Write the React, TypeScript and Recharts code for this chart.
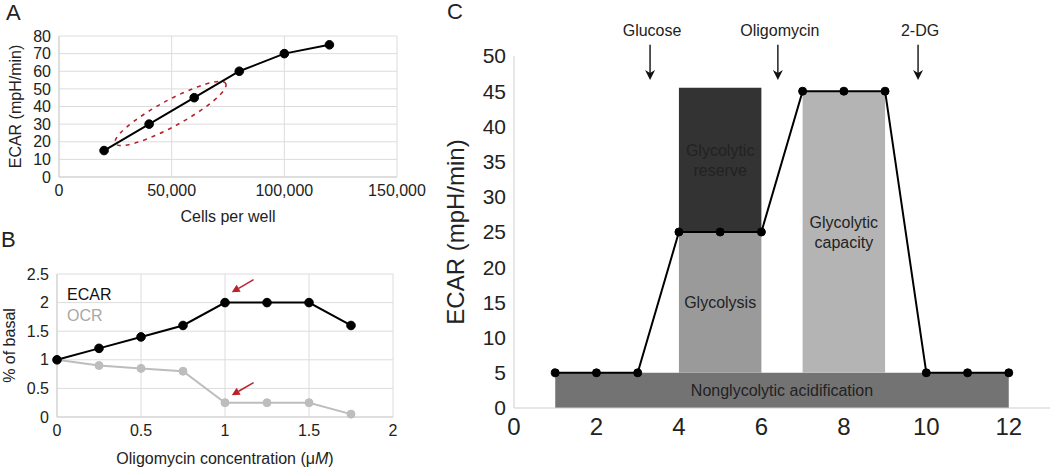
import React from 'react';
import { LineChart, Line, XAxis, YAxis, CartesianGrid, ReferenceArea, ReferenceLine, Label } from 'recharts';

// ---------- Data ----------
// Panel A
const cellsPerWell = [20000, 40000, 60000, 80000, 100000, 120000];
const ecarByCells = [15, 30, 45, 60, 70, 75];
const aXTicks = [0, 50000, 100000, 150000];
const aYTicks = [0, 10, 20, 30, 40, 50, 60, 70, 80];
// linear-range highlight (ellipse ends, data coords)
const linearRangeStart = { x: 25000, y: 19 };
const linearRangeEnd = { x: 74000, y: 53 };

// Panel B
const oligoConc = [0, 0.25, 0.5, 0.75, 1, 1.25, 1.5, 1.75];
const ecarPct = [1, 1.2, 1.4, 1.6, 2, 2, 2, 1.6];
const ocrPct = [1, 0.9, 0.85, 0.8, 0.25, 0.25, 0.25, 0.05];
const bXTicks = [0, 0.5, 1, 1.5, 2];
const bYTicks = [0, 0.5, 1, 1.5, 2, 2.5];
const bSeriesNames = ['ECAR', 'OCR'];
// optimal-dose arrows (tail -> head, data coords)
const bArrowTails = [{ x: 1.17, y: 2.4 }, { x: 1.17, y: 0.6 }];
const bArrowHeads = [{ x: 1.04, y: 2.18 }, { x: 1.04, y: 0.38 }];

// Panel C
const timePoints = [1, 2, 3, 4, 5, 6, 7, 8, 9, 10, 11, 12];
const ecarTime = [5, 5, 5, 25, 25, 25, 45, 45, 45, 5, 5, 5];
const cXTicks = [0, 2, 4, 6, 8, 10, 12];
const cYTicks = [0, 5, 10, 15, 20, 25, 30, 35, 40, 45, 50];
const injections = ['Glucose', 'Oligomycin', '2-DG'];
const injectionTimes = [3.3, 6.4, 9.8];
const injectionArrowTop = 51.6;
const injectionArrowBottom = 46.6;
const phaseNames = ['Nonglycolytic acidification', 'Glycolysis', 'Glycolytic\nreserve', 'Glycolytic\ncapacity'];
const phaseStart = [1, 4, 4, 7];
const phaseEnd = [12, 6, 6, 9];
const phaseLow = [0, 5, 25, 5];
const phaseHigh = [5, 25, 45.5, 45];

// ---------- Styles ----------
const FONT = '"Liberation Sans", Arial, Helvetica, sans-serif';
const TEXT = '#222';
const GRID = '#dcdcdc';
const AXIS = '#cfcfcf';
const RED = '#b8232b';
const PHASE_FILL = ['#737373', '#9a9a9a', '#333333', '#b4b4b4'];

const dataA = cellsPerWell.map((c, i) => ({ cells: c, ecar: ecarByCells[i] }));
const dataB = oligoConc.map((c, i) => ({ conc: c, ecar: ecarPct[i], ocr: ocrPct[i] }));
const dataC = timePoints.map((t, i) => ({ t, ecar: ecarTime[i] }));

const EllipseShape = (p: any) => {
  const { x1, y1, x2, y2 } = p;
  const cx = (x1 + x2) / 2;
  const cy = (y1 + y2) / 2;
  const rx = Math.hypot(x2 - x1, y2 - y1) / 2;
  const ang = (Math.atan2(y2 - y1, x2 - x1) * 180) / Math.PI;
  return (
    <ellipse cx={cx} cy={cy} rx={rx} ry={13} transform={`rotate(${ang} ${cx} ${cy})`}
      fill="none" stroke={RED} strokeWidth={1.6} strokeDasharray="4 5" />
  );
};

const RedArrowShape = (p: any) => {
  const { x1, y1, x2, y2 } = p;
  const dx = x2 - x1, dy = y2 - y1;
  const len = Math.hypot(dx, dy);
  const ux = dx / len, uy = dy / len;
  const hl = 8, hw = 4;
  const bx = x2 - ux * hl, by = y2 - uy * hl;
  const px = -uy, py = ux;
  return (
    <g>
      <line x1={x1} y1={y1} x2={bx} y2={by} stroke={RED} strokeWidth={1.5} />
      <polygon points={`${x2},${y2} ${bx + px * hw},${by + py * hw} ${bx - px * hw},${by - py * hw}`} fill={RED} />
    </g>
  );
};

const makeInjectionShape = (name: string) => (p: any) => {
  const { x1, y1, x2, y2 } = p;
  return (
    <g>
      <line x1={x1} y1={y1} x2={x2} y2={y2 - 3} stroke="#111" strokeWidth={1.4} />
      <polygon points={`${x2 - 5},${y2 - 10} ${x2},${y2} ${x2 + 5},${y2 - 10} ${x2},${y2 - 7}`} fill="#111" />
      <text x={x1 + 2} y={y1 - 9} textAnchor="middle" fontSize={16} fill={TEXT} fontFamily={FONT}>{name}</text>
    </g>
  );
};

const makePhaseLabel = (name: string) => (props: any) => {
  const vb = props.viewBox || {};
  const lines = name.split('\n');
  const fs = 16;
  const lh = 20;
  const cx = vb.x + vb.width / 2;
  const cy = vb.y + vb.height / 2;
  const firstCenter = cy - ((lines.length - 1) * lh) / 2;
  return (
    <text textAnchor="middle" fontSize={fs} fill={TEXT} fontFamily={FONT}>
      {lines.map((l, i) => (
        <tspan key={i} x={cx} y={firstCenter + i * lh + fs * 0.36}>{l}</tspan>
      ))}
    </text>
  );
};

const OligoLabel = (props: any) => {
  const vb = props.viewBox || { x: 57, y: 197, width: 336, height: 50 };
  const cx = vb.x + vb.width / 2;
  const y = vb.y + vb.height - 3;
  return (
    <text x={cx} y={y} textAnchor="middle" fontSize={16} fill={TEXT} fontFamily={FONT}>
      Oligomycin concentration (μ<tspan fontStyle="italic">M</tspan>)
    </text>
  );
};

const tickStyle = (fs: number) => ({ fontSize: fs, fill: TEXT, fontFamily: FONT });

export default function App() {
  return (
    <div style={{ position: 'absolute', left: 0, top: 0, width: 1050, height: 467, background: '#fff', fontFamily: FONT, overflow: 'hidden' }}>
      {/* Panel letters */}
      <div style={{ position: 'absolute', left: 6, top: 0, fontSize: 22, lineHeight: '26px', color: TEXT }}>A</div>
      <div style={{ position: 'absolute', left: 1, top: 227, fontSize: 22, lineHeight: '26px', color: TEXT }}>B</div>
      <div style={{ position: 'absolute', left: 447, top: -1, fontSize: 22, lineHeight: '26px', color: TEXT }}>C</div>

      {/* Panel A */}
      <div style={{ position: 'absolute', left: 0, top: 0 }}>
        <LineChart width={440} height={225} data={dataA} margin={{ top: 36, right: 43, left: 0, bottom: 0 }}>
          <CartesianGrid stroke={GRID} />
          <XAxis dataKey="cells" type="number" domain={[0, 150000]} ticks={aXTicks} interval={0}
            tickFormatter={(v: number) => v.toLocaleString('en-US')} tickLine={false}
            axisLine={{ stroke: AXIS }} height={48} tick={tickStyle(16)}>
            <Label value="Cells per well" position="insideBottom" offset={3} style={{ fontSize: 16, fill: TEXT, fontFamily: FONT }} />
          </XAxis>
          <YAxis type="number" domain={[0, 80]} ticks={aYTicks} interval={0} width={59} tickLine={false}
            axisLine={{ stroke: AXIS }} tick={tickStyle(16)}>
            <Label value="ECAR (mpH/min)" angle={-90} position="insideLeft" offset={15}
              style={{ fontSize: 16, fill: TEXT, fontFamily: FONT, textAnchor: 'middle' }} />
          </YAxis>
          <ReferenceLine segment={[linearRangeStart, linearRangeEnd]} ifOverflow="visible" shape={EllipseShape} />
          <Line dataKey="ecar" stroke="#000" strokeWidth={2} dot={{ r: 4.3, fill: '#000', stroke: '#000', strokeWidth: 1 }} isAnimationActive={false} />
        </LineChart>
      </div>

      {/* Panel B */}
      <div style={{ position: 'absolute', left: 0, top: 220 }}>
        <LineChart width={400} height={247} data={dataB} margin={{ top: 54, right: 7, left: 0, bottom: 0 }}>
          <CartesianGrid stroke={GRID} />
          <XAxis dataKey="conc" type="number" domain={[0, 2]} ticks={bXTicks} interval={0} tickLine={false}
            axisLine={{ stroke: AXIS }} height={50} tick={tickStyle(16)}>
            <Label content={OligoLabel} />
          </XAxis>
          <YAxis type="number" domain={[0, 2.5]} ticks={bYTicks} interval={0} width={57} tickLine={false}
            axisLine={{ stroke: AXIS }} tick={tickStyle(16)}>
            <Label value="% of basal" angle={-90} position="insideLeft" offset={9}
              style={{ fontSize: 16, fill: TEXT, fontFamily: FONT, textAnchor: 'middle' }} />
          </YAxis>
          <Line dataKey="ocr" stroke="#bdbdbd" strokeWidth={2} dot={{ r: 4, fill: '#bdbdbd', stroke: '#bdbdbd', strokeWidth: 1 }} isAnimationActive={false} />
          <Line dataKey="ecar" stroke="#000" strokeWidth={2} dot={{ r: 4.3, fill: '#000', stroke: '#000', strokeWidth: 1 }} isAnimationActive={false} />
          {bArrowTails.map((t, i) => (
            <ReferenceLine key={i} segment={[t, bArrowHeads[i]]} ifOverflow="visible" shape={RedArrowShape} />
          ))}
        </LineChart>
      </div>
      <div style={{ position: 'absolute', left: 67, top: 285, fontSize: 16, lineHeight: '20px', color: '#111' }}>{bSeriesNames[0]}</div>
      <div style={{ position: 'absolute', left: 67, top: 306, fontSize: 16, lineHeight: '20px', color: '#a8a8a8' }}>{bSeriesNames[1]}</div>

      {/* Panel C */}
      <div style={{ position: 'absolute', left: 430, top: 0 }}>
        <LineChart width={620} height={467} data={dataC} margin={{ top: 56, right: 0, left: 0, bottom: 0 }}>
          {phaseNames.map((n, i) => (
            <ReferenceArea key={n} x1={phaseStart[i]} x2={phaseEnd[i]} y1={phaseLow[i]} y2={phaseHigh[i]}
              fill={PHASE_FILL[i]} fillOpacity={1} stroke="none" ifOverflow="visible">
              <Label content={makePhaseLabel(n)} />
            </ReferenceArea>
          ))}
          <XAxis dataKey="t" type="number" domain={[0, 13]} ticks={cXTicks} interval={0} tickLine={false}
            axisLine={{ stroke: AXIS }} height={59} tick={tickStyle(24)} tickMargin={4} />
          <YAxis type="number" domain={[0, 50]} ticks={cYTicks} interval={0} width={84} tickLine={false}
            axisLine={{ stroke: AXIS }} tick={tickStyle(21)}>
            <Label value="ECAR (mpH/min)" angle={-90} position="insideLeft" offset={25}
              style={{ fontSize: 24, fill: TEXT, fontFamily: FONT, textAnchor: 'middle' }} />
          </YAxis>
          <Line dataKey="ecar" stroke="#000" strokeWidth={2} dot={{ r: 4, fill: '#000', stroke: '#000', strokeWidth: 1 }} isAnimationActive={false} />
          {injections.map((n, i) => (
            <ReferenceLine key={n}
              segment={[{ x: injectionTimes[i], y: injectionArrowTop }, { x: injectionTimes[i], y: injectionArrowBottom }]}
              ifOverflow="visible" shape={makeInjectionShape(n)} />
          ))}
        </LineChart>
      </div>
    </div>
  );
}
